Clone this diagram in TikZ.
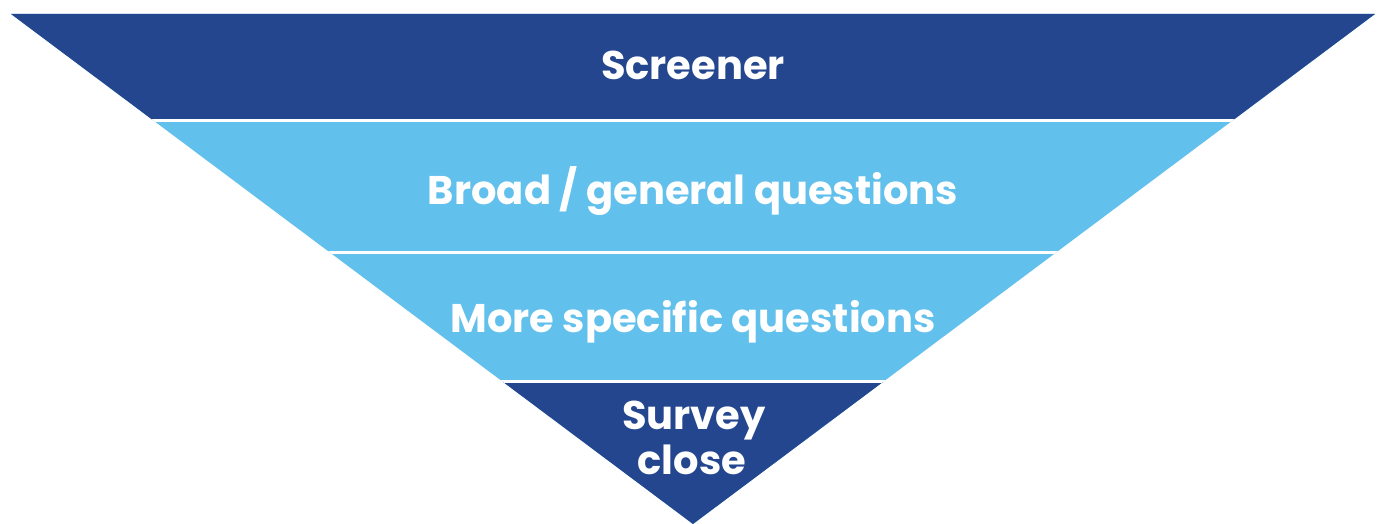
\documentclass[tikz,border=0pt]{standalone}
\usepackage{fontspec}
\setmainfont{Poppins}
\definecolor{darkband}{HTML}{24468F}
\definecolor{lightband}{HTML}{62C0EC}
\begin{document}
\begin{tikzpicture}[x=1pt,y=-1pt,
  bandlabel/.style={text=white,inner sep=0pt,anchor=base,
    font=\bfseries\fontsize{40}{48}\selectfont,align=center},
  sepline/.style={white,line width=3pt}]
\useasboundingbox (0,0) rectangle (1384,524);
\coordinate (tl) at (11,14);
\coordinate (tr) at (1375,14);
\coordinate (ap) at (693,524);
\begin{scope}
  \clip (tl) -- (tr) -- (ap) -- cycle;
  \fill[lightband] (0,0) rectangle (1384,524);
  \fill[darkband] (0,0) rectangle (1384,120);
  \fill[darkband] (0,382) rectangle (1384,524);
  \draw[sepline] (0,120.5) -- (1384,120.5);
  \draw[sepline] (0,252.5) -- (1384,252.5);
  \draw[sepline] (0,381.5) -- (1384,381.5);
\end{scope}
\node[bandlabel] (screener) at (693,80) {Screener};
\node[bandlabel] (broad) at (693,204) {Broad / general questions};
\node[bandlabel] (specific) at (693,332) {More specific questions};
\node[bandlabel] (survey) at (694,429) {Survey};
\node[bandlabel] (close) at (692,474) {close};
\end{tikzpicture}
\end{document}
